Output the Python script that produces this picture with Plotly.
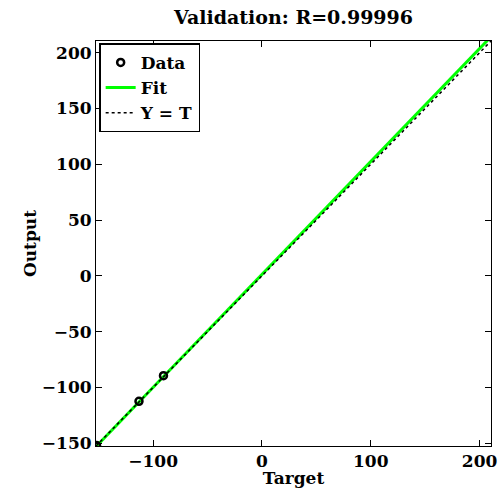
import plotly.graph_objects as go

# Data
target = [-152.0, -113.0, -90.5]
output = [-152.0, -112.5, -89.5]
fit_slope = 1.012
fit_intercept = 1.3
axis_min, axis_max = -152.5, 210.5
x_ticks = [-100, 0, 100, 200]
y_ticks = [-150, -100, -50, 0, 50, 100, 150, 200]
title_text = "Validation: R=0.99996"

line_x = [axis_min, axis_max]
fit_y = [fit_slope * v + fit_intercept for v in line_x]

FONT = "DejaVu Serif"
BLACK = "black"

fig = go.Figure()
fig.add_trace(go.Scatter(
    x=line_x, y=fit_y, mode="lines", name="Fit", legendrank=2,
    line=dict(color="#00ff00", width=3),
))
fig.add_trace(go.Scatter(
    x=line_x, y=line_x, mode="lines", name="Y = T", legendrank=3,
    line=dict(color=BLACK, width=1.5, dash="dot"),
))
fig.add_trace(go.Scatter(
    x=target, y=output, mode="markers", name="Data", legendrank=1,
    marker=dict(symbol="circle-open", size=7, color=BLACK, line=dict(width=2.5)),
))

axis_common = dict(
    range=[axis_min, axis_max], showgrid=False, zeroline=False, automargin=False,
    ticks="inside", ticklen=6, tickwidth=1, tickcolor=BLACK,
    showline=True, linecolor=BLACK, linewidth=1, mirror="ticks",
    tickfont=dict(family=FONT, size=17, color=BLACK, weight="bold"),
)

fig.update_layout(
    width=499, height=488,
    margin=dict(l=96, r=8, t=41, b=42),
    paper_bgcolor="white", plot_bgcolor="white",
    title=dict(text=title_text, x=(96 + 491) / 2 / 499, xanchor="center",
               y=1 - 17 / 488, yanchor="middle",
               font=dict(family=FONT, size=19, color=BLACK, weight="bold")),
    xaxis=dict(**axis_common, tickvals=x_ticks,
               title=dict(text="Target", standoff=0,
                          font=dict(family=FONT, size=17, color=BLACK, weight="bold"))),
    yaxis=dict(**axis_common, tickvals=y_ticks,
               title=dict(text="Output", standoff=0,
                          font=dict(family=FONT, size=17, color=BLACK, weight="bold"))),
    legend=dict(x=0.008, y=0.994, xanchor="left", yanchor="top",
                bgcolor="white", bordercolor=BLACK, borderwidth=1.5,
                font=dict(family=FONT, size=17, color=BLACK, weight="bold"),
                itemwidth=30, tracegroupgap=0, traceorder="normal"),
    showlegend=True,
)

fig.write_html("out.html", config={"displayModeBar": False})
with open("out.html", encoding="utf-8") as f:
    html = f.read()
html = html.replace("<body>", '<body style="margin:0;padding:0;overflow:hidden">', 1)
with open("out.html", "w", encoding="utf-8") as f:
    f.write(html)
